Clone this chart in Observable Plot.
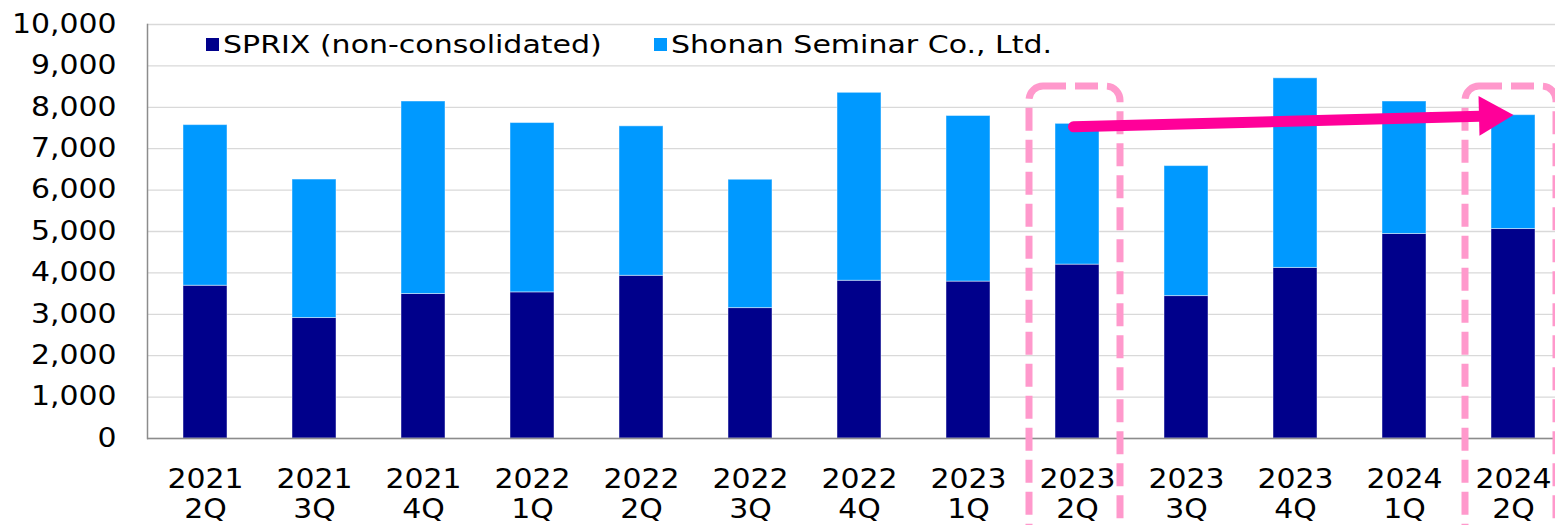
<!DOCTYPE html>
<html>
<head>
<meta charset="utf-8">
<script src="https://cdn.jsdelivr.net/npm/d3@7"></script>
<script src="https://cdn.jsdelivr.net/npm/@observablehq/plot@0.6"></script>
<style>
  html, body { margin: 0; padding: 0; background: #fff; overflow: hidden; }
  #wrap { position: relative; width: 1555px; height: 525px; overflow: hidden; background: #fff; }
  #wrap svg { position: absolute; left: 0; top: 0; }
  .item { position: absolute; top: 29px; height: 30px; display: flex; align-items: center; white-space: nowrap;
          font-family: "DejaVu Sans"; font-size: 25px; color: #000; }
  .sw { width: 13px; height: 13px; margin-right: 4px; flex: none; }
  .lbl { display: inline-block; transform: scaleX(1.2); transform-origin: 0 50%; }
</style>
</head>
<body>
<div id="wrap"></div>
<script>
// ---- data ----
const quarters = ["2021 2Q", "2021 3Q", "2021 4Q", "2022 1Q", "2022 2Q", "2022 3Q", "2022 4Q",
                  "2023 1Q", "2023 2Q", "2023 3Q", "2023 4Q", "2024 1Q", "2024 2Q"];
const series = ["SPRIX (non-consolidated)", "Shonan Seminar Co., Ltd."];
const sprix  = [3690, 2910, 3490, 3530, 3930, 3150, 3810, 3790, 4200, 3440, 4120, 4940, 5060];
const shonan = [3880, 3345, 4650, 4090, 3610, 3100, 4540, 4000, 3400, 3140, 4580, 3200, 2750];
const yTicks = [0, 1000, 2000, 3000, 4000, 5000, 6000, 7000, 8000, 9000, 10000];
const highlighted = ["2023 2Q", "2024 2Q"];
const arrowFrom = "2023 2Q", arrowFromValue = 7530;
const arrowTo = "2024 2Q", arrowToValue = 7800;

// ---- styling ----
const colors = ["#00008B", "#0099FF"];
const pink = "#FF99CC", magenta = "#FF0099";
const textScale = 1.15;

const rows = [];
quarters.forEach((q, i) => rows.push({q, s: series[0], v: sprix[i]}));
quarters.forEach((q, i) => rows.push({q, s: series[1], v: shonan[i]}));

const plot = Plot.plot({
  width: 1555,
  height: 525,
  marginTop: 24,
  marginBottom: 87,
  marginLeft: 147,
  marginRight: 0,
  style: {fontFamily: "DejaVu Sans", fontSize: "26px", color: "#000", background: "#fff"},
  x: {domain: quarters, range: [147.25, 1570.75], paddingInner: 0.6, paddingOuter: 0.3, align: 0.5, label: null},
  y: {domain: [0, 10000], label: null},
  color: {domain: series, range: colors},
  marks: [
    Plot.gridY(yTicks, {stroke: "#d9d9d9", strokeOpacity: 1, strokeWidth: 1.3}),
    Plot.barY(rows, {x: "q", y: "v", fill: "s", stroke: "#ffffff", strokeOpacity: 0.45, strokeWidth: 1}),
    Plot.ruleY([0], {stroke: "#8c8c8c", strokeWidth: 1.5}),
    Plot.frame({anchor: "left", stroke: "#8c8c8c", strokeWidth: 1.5}),
    Plot.axisY(yTicks, {tickSize: 0, tickPadding: 31, tickFormat: d3.format(","), fontSize: 26, fill: "#000", label: null}),
    Plot.axisX({tickSize: 0, tickPadding: 29, tickFormat: d => d.replace(" ", "\n"), lineHeight: 1.13, fontSize: 26, fill: "#000", label: null}),
    Plot.barY(highlighted, {x: d => d, y1: -2600, y2: 8500, fill: "none", stroke: pink, strokeWidth: 7,
      strokeDasharray: "23 9", rx: 14, insetLeft: -26, insetRight: -21}),
    Plot.arrow([0], {x1: [arrowFrom], y1: [arrowFromValue], x2: [arrowTo], y2: [arrowToValue],
      stroke: magenta, strokeWidth: 11, strokeLinecap: "round", headLength: 0, insetEnd: 30, bend: 0, dx: -4}),
    Plot.dot([0], {x: [arrowTo], y: [arrowToValue], symbol: "triangle", r: 14.8, rotate: 88.6,
      fill: magenta, stroke: "none", dx: -23})
  ]
});

// horizontally stretch the text glyphs like the reference
d3.select(plot).selectAll("text").each(function() {
  const t = this.getAttribute("transform") || "";
  this.setAttribute("transform", (t + ` scale(${textScale},1)`).trim());
});

const wrap = document.getElementById("wrap");
wrap.appendChild(plot);

// legend inside plot area
const legendLeft = [206, 654];
series.forEach((s, i) => {
  const item = d3.select(wrap).append("div").attr("class", "item").style("left", legendLeft[i] + "px");
  item.append("div").attr("class", "sw").style("background", colors[i]);
  item.append("span").attr("class", "lbl").text(s);
});
</script>
</body>
</html>
